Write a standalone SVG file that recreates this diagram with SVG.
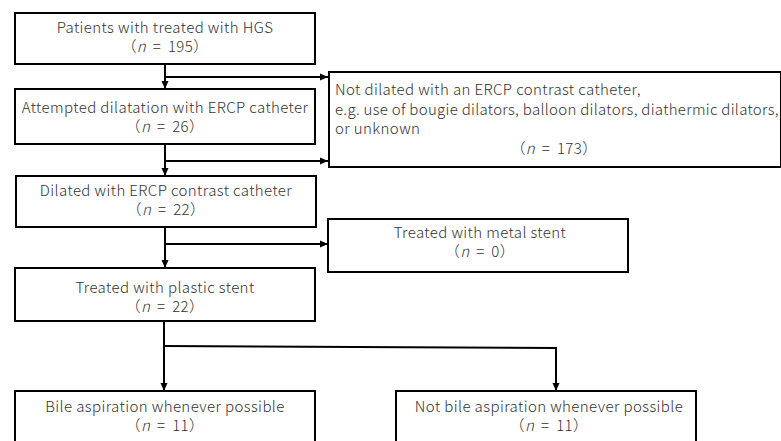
<svg xmlns="http://www.w3.org/2000/svg" width="781" height="441" viewBox="0 0 781 441">
<defs>
<marker id="ah" markerUnits="userSpaceOnUse" markerWidth="9" markerHeight="8" refX="8" refY="4" orient="auto">
<path d="M0,0.5 L8,4 L0,7.5 z" fill="#000"/>
</marker>
<style>
.box{fill:#fff;stroke:#000;stroke-width:2}
.t{font-family:"Noto Sans CJK JP","Noto Sans",sans-serif;font-size:15px;font-weight:300;letter-spacing:0.4px;fill:#333;text-anchor:middle}
.l{text-anchor:start}
.n{word-spacing:3px}
.c{fill:none;stroke:#000;stroke-width:2}
</style>
</defs>
<rect width="781" height="441" fill="#fff"/>
<g id="connectors">
<line class="c" x1="165" y1="64" x2="165" y2="89" marker-end="url(#ah)"/>
<line class="c" x1="165" y1="77" x2="328" y2="77" marker-end="url(#ah)"/>
<line class="c" x1="165" y1="144" x2="165" y2="176" marker-end="url(#ah)"/>
<line class="c" x1="165" y1="161" x2="328" y2="161" marker-end="url(#ah)"/>
<line class="c" x1="165" y1="227" x2="165" y2="268" marker-end="url(#ah)"/>
<line class="c" x1="165" y1="244" x2="328" y2="244" marker-end="url(#ah)"/>
<line class="c" x1="164" y1="321" x2="164" y2="391" marker-end="url(#ah)"/>
<polyline class="c" points="164,346 556,348 556,391" marker-end="url(#ah)"/>
</g>
<g id="n1">
<rect class="box" x="15" y="13" width="300" height="51"/>
<text class="t" x="165" y="33">Patients with treated with HGS</text>
<text class="t n" x="165" y="52">（<tspan font-style="italic">n</tspan> = 195）</text>
</g>
<g id="n2">
<rect class="box" x="15" y="89" width="300" height="55"/>
<text class="t" x="165" y="113">Attempted dilatation with ERCP catheter</text>
<text class="t n" x="165" y="132">（<tspan font-style="italic">n</tspan> = 26）</text>
</g>
<g id="n3">
<rect class="box" x="16" y="176" width="300" height="51"/>
<text class="t" x="166" y="196">Dilated with ERCP contrast catheter</text>
<text class="t n" x="166" y="215">（<tspan font-style="italic">n</tspan> = 22）</text>
</g>
<g id="n4">
<rect class="box" x="15" y="268" width="300" height="53"/>
<text class="t" x="165" y="293">Treated with plastic stent</text>
<text class="t n" x="165" y="312">（<tspan font-style="italic">n</tspan> = 22）</text>
</g>
<g id="n5">
<rect class="box" x="329" y="72" width="452" height="95"/>
<text class="t l" x="335" y="95">Not dilated with an ERCP contrast catheter,</text>
<text class="t l" x="335" y="115" style="letter-spacing:0.3px">e.g. use of bougie dilators, balloon dilators, diathermic dilators,</text>
<text class="t l" x="335" y="134">or unknown</text>
<text class="t n" x="554" y="154">（<tspan font-style="italic">n</tspan> = 173）</text>
</g>
<g id="n6">
<rect class="box" x="328" y="219" width="300" height="53"/>
<text class="t" x="480" y="238">Treated with metal stent</text>
<text class="t n" x="480" y="257">（<tspan font-style="italic">n</tspan> = 0）</text>
</g>
<g id="n7">
<rect class="box" x="15" y="391" width="300" height="60"/>
<text class="t" x="165" y="412">Bile aspiration whenever possible</text>
<text class="t n" x="165" y="431">（<tspan font-style="italic">n</tspan> = 11）</text>
</g>
<g id="n8">
<rect class="box" x="396" y="391" width="300" height="60"/>
<text class="t" x="549" y="412">Not bile aspiration whenever possible</text>
<text class="t n" x="549" y="431">（<tspan font-style="italic">n</tspan> = 11）</text>
</g>
</svg>
